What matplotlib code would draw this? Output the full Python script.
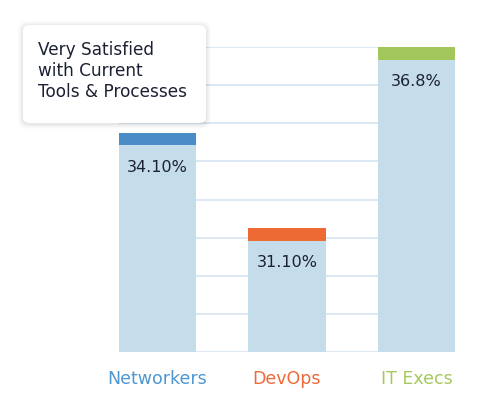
import numpy as np
import matplotlib.pyplot as plt
from matplotlib.patches import FancyBboxPatch

categories = ['Networkers', 'DevOps', 'IT Execs']
values = [34.1, 31.1, 36.8]
value_labels = ['34.10%', '31.10%', '36.8%']
cap_colors = ['#4a8cc8', '#ee6a35', '#a3c65a']
label_colors = ['#4f97d2', '#ee6a3a', '#a5c95c']
title_text = 'Very Satisfied\nwith Current\nTools & Processes'

ymin, ymax = 27.2, 36.8
cap = 0.4
bar_w = 0.595
dark = '#1b2133'

fig = plt.figure(figsize=(4.8, 3.93), dpi=100)
ax = fig.add_axes([119 / 480, 41 / 393, 336 / 480, 305 / 393])

x = np.arange(len(categories))
for y in np.linspace(ymin, ymax, 9):
    ax.axhline(y, color='#d9e7f3', lw=1.3, zorder=0)

ax.bar(x, np.array(values) - ymin, bottom=ymin, width=bar_w, color='#c5dceb', zorder=2)
ax.bar(x, cap, bottom=np.array(values) - cap, width=bar_w, color=cap_colors, zorder=3)

for xi, v, lab in zip(x, values, value_labels):
    ax.annotate(lab, (xi, v - cap), xytext=(0, -10.5), textcoords='offset points',
                ha='center', va='top', fontsize=11.5, color=dark, zorder=4)

ax.set_xlim(-bar_w / 2, len(categories) - 1 + bar_w / 2)
ax.set_ylim(ymin, ymax)
ax.set_xticks(x)
ax.set_xticklabels(categories, fontsize=12.5)
for t, c in zip(ax.get_xticklabels(), label_colors):
    t.set_color(c)
ax.tick_params(axis='x', length=0, pad=13)
ax.set_yticks([])
for s in ax.spines.values():
    s.set_visible(False)

# title card with soft shadow
W, H = 480, 393
x0, y0, w, h = 23, H - 123, 183, 98
for grow, a in [(5, 0.012), (4, 0.015), (3, 0.018), (2, 0.022), (1, 0.025)]:
    sh = FancyBboxPatch(((x0 - grow) / W, (y0 - grow - 1) / H), (w + 2 * grow) / W, (h + 2 * grow) / H,
                        boxstyle='round,pad=0,rounding_size=0.02', transform=fig.transFigure,
                        facecolor='black', edgecolor='none', alpha=a, zorder=5)
    fig.patches.append(sh)
box = FancyBboxPatch((x0 / W, y0 / H), w / W, h / H,
                     boxstyle='round,pad=0,rounding_size=0.015', transform=fig.transFigure,
                     facecolor='white', edgecolor='none', zorder=6)
fig.patches.append(box)
fig.text(38 / W, 1 - 41 / H, title_text, fontsize=12.2, color=dark, va='top', ha='left',
         linespacing=1.2, zorder=7)

fig.savefig('out.png', dpi=100)
